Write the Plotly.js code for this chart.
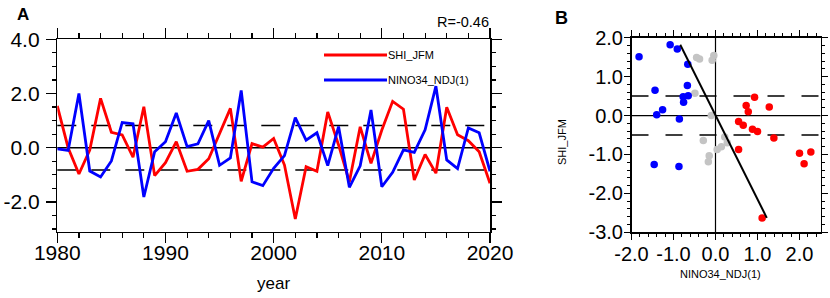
<!DOCTYPE html>
<html>
<head>
<meta charset="utf-8">
<script src="https://cdn.plot.ly/plotly-3.0.1.min.js"></script>
<style>html,body{margin:0;padding:0;background:#fff;}#chart{width:830px;height:298px;}</style>
</head>
<body>
<div id="chart"></div>
<script>
// ---- data ----
var years = [1980,1981,1982,1983,1984,1985,1986,1987,1988,1989,1990,1991,1992,1993,1994,1995,1996,1997,1998,1999,2000,2001,2002,2003,2004,2005,2006,2007,2008,2009,2010,2011,2012,2013,2014,2015,2016,2017,2018,2019,2020];
var shiJFM = [1.54,0.00,-0.97,-0.09,1.82,0.57,0.47,-0.35,1.51,-1.03,-0.55,0.22,-0.87,-0.80,-0.41,0.51,1.45,-1.24,0.15,0.02,0.34,-0.64,-2.63,-0.70,-0.87,1.32,0.10,-1.26,0.77,-0.58,0.65,1.71,1.42,-1.19,-0.25,-0.94,1.49,0.48,0.26,-0.15,-1.31];
var nino34NDJ = [-0.04,-0.10,2.00,-0.86,-1.08,-0.49,0.93,0.88,-1.82,-0.15,0.22,1.28,0.04,0.14,1.00,-0.65,-0.38,2.11,-1.26,-1.40,-0.76,-0.29,1.11,0.28,0.55,-0.66,0.78,-1.46,-0.67,1.39,-1.44,-0.91,-0.08,-0.17,0.66,2.27,-0.45,-0.77,0.73,0.55,-0.87];
var seriesNames = ["SHI_JFM", "NINO34_NDJ(1)"];
var seriesColors = ["#ff0000", "#0000ff"];
var dashLevelsA = [0.82, -0.82];
var dashLevelsB = [0.5, -0.5];
var ensoThresholds = [-0.5, 0.5];
var corrText = "R=-0.46";
var xTickValsA = [1980,1990,2000,2010,2020];
var xTickTextA = ["1980","1990","2000","2010","2020"];
var yTickValsA = [-2,0,2,4];
var yTickTextA = ["-2.0","0.0","2.0","4.0"];
var xTickValsB = [-2,-1,0,1,2];
var xTickTextB = ["-2.0","-1.0","0.0","1.0","2.0"];
var yTickValsB = [-3,-2,-1,0,1,2];
var yTickTextB = ["-3.0","-2.0","-1.0","0.0","1.0","2.0"];

// ---- derived ----
var ptColors = nino34NDJ.map(function(v){
  if (v < ensoThresholds[0]) return "#0000ff";
  if (v > ensoThresholds[1]) return "#ff0000";
  return "#c4c4c4";
});
var n = shiJFM.length, mx = 0, my = 0;
for (var i=0;i<n;i++){ mx += nino34NDJ[i]; my += shiJFM[i]; }
mx/=n; my/=n;
var sxy=0, syy=0;
for (var i=0;i<n;i++){ sxy += (nino34NDJ[i]-mx)*(shiJFM[i]-my); syy += (shiJFM[i]-my)*(shiJFM[i]-my); }
var b = sxy/syy, a = mx - b*my;
var yMin = Math.min.apply(null, shiJFM), yMax = Math.max.apply(null, shiJFM);
var regY = [yMax, yMin];
var regX = regY.map(function(y){ return a + b*y; });

var FONT = "Liberation Sans, Arial, Helvetica, sans-serif";

var traces = [
  {x: years, y: shiJFM, type:"scatter", mode:"lines", line:{color:seriesColors[0], width:2.8}, xaxis:"x", yaxis:"y", showlegend:false},
  {x: years, y: nino34NDJ, type:"scatter", mode:"lines", line:{color:seriesColors[1], width:2.8}, xaxis:"x", yaxis:"y", showlegend:false},
  {x: nino34NDJ, y: shiJFM, type:"scatter", mode:"markers", marker:{color:ptColors, size:7.5, line:{width:0}}, xaxis:"x2", yaxis:"y2", showlegend:false},
  {x: regX, y: regY, type:"scatter", mode:"lines", line:{color:"#000", width:2}, xaxis:"x2", yaxis:"y2", showlegend:false}
];

var shapes = [];
shapes.push({type:"line", xref:"x domain", yref:"y", x0:0, x1:1, y0:0, y1:0, line:{color:"#000", width:1.5}, layer:"below"});
dashLevelsA.forEach(function(v){
  shapes.push({type:"line", xref:"x domain", yref:"y", x0:0, x1:1, y0:v, y1:v, line:{color:"#000", width:1.5, dash:"19px,15px"}, layer:"below"});
});
shapes.push({type:"line", xref:"x2 domain", yref:"y2", x0:0, x1:1, y0:0, y1:0, line:{color:"#000", width:1.2}, layer:"below"});
shapes.push({type:"line", xref:"x2", yref:"y2 domain", x0:0, x1:0, y0:0, y1:1, line:{color:"#000", width:1.2}, layer:"below"});
dashLevelsB.forEach(function(v){
  shapes.push({type:"line", xref:"x2 domain", yref:"y2", x0:0, x1:1, y0:v, y1:v, line:{color:"#000", width:1.5, dash:"17px,17px"}, layer:"below"});
});
var legY = [1-55/298, 1-80/298];
shapes.push({type:"line", xref:"paper", yref:"paper", x0:324/830, x1:387/830, y0:legY[0], y1:legY[0], line:{color:seriesColors[0], width:2.8}});
shapes.push({type:"line", xref:"paper", yref:"paper", x0:324/830, x1:387/830, y0:legY[1], y1:legY[1], line:{color:seriesColors[1], width:2.8}});

var annotations = [
  {text:"<b>A</b>", xref:"paper", yref:"paper", x:15/830, y:1-3/298, xanchor:"left", yanchor:"top", showarrow:false, font:{family:FONT, size:17, color:"#000"}},
  {text:"<b>B</b>", xref:"paper", yref:"paper", x:553/830, y:1-6/298, xanchor:"left", yanchor:"top", showarrow:false, font:{family:FONT, size:18, color:"#000"}},
  {text:corrText, xref:"paper", yref:"paper", x:491/830, y:1-22/298, xanchor:"right", yanchor:"middle", showarrow:false, font:{family:FONT, size:14.5, color:"#000"}},
  {text:seriesNames[0], xref:"paper", yref:"paper", x:386/830, y:legY[0], xanchor:"left", yanchor:"middle", showarrow:false, font:{family:FONT, size:11, color:"#000"}},
  {text:seriesNames[1], xref:"paper", yref:"paper", x:386/830, y:legY[1], xanchor:"left", yanchor:"middle", showarrow:false, font:{family:FONT, size:11, color:"#000"}},
  {text:"year", xref:"paper", yref:"paper", x:273/830, y:1-283/298, xanchor:"center", yanchor:"middle", showarrow:false, font:{family:FONT, size:17, color:"#000"}},
  {text:seriesNames[1], xref:"paper", yref:"paper", x:720/830, y:1-274/298, xanchor:"center", yanchor:"middle", showarrow:false, font:{family:FONT, size:11, color:"#000"}},
  {text:seriesNames[0], xref:"paper", yref:"paper", x:562/830, y:1-142/298, xanchor:"center", yanchor:"middle", textangle:-90, showarrow:false, font:{family:FONT, size:11, color:"#000"}}
];

function axisBase(extra){
  var o = {showgrid:false, zeroline:false, showline:true, mirror:"ticks", linecolor:"#000", linewidth:1.5,
    ticks:"outside", tickcolor:"#000", tickwidth:1.3, tickmode:"array", fixedrange:true,
    tickfont:{family:FONT, color:"#000"}};
  for (var k in extra) o[k] = extra[k];
  return o;
}

var layout = {
  width:830, height:298, margin:{l:0,r:0,t:0,b:0}, paper_bgcolor:"#fff", plot_bgcolor:"#fff",
  font:{family:FONT, color:"#000"},
  showlegend:false,
  xaxis: axisBase({domain:[57.3/830, 490/830], range:[1980,2020], tickvals:xTickValsA, ticktext:xTickTextA, ticklen:10,
    tickfont:{family:FONT, size:21, color:"#000"}, ticklabelstandoff:-8,
    minor:{tickmode:"linear", tick0:1980, dtick:2, ticks:"outside", ticklen:5, tickwidth:1.2, tickcolor:"#000"}, anchor:"y"}),
  yaxis: axisBase({domain:[1-231.7/298, 1-39.3/298], range:[-3.1,4.0], tickvals:yTickValsA, ticktext:yTickTextA, ticklen:10,
    tickfont:{family:FONT, size:21, color:"#000"}, ticklabelstandoff:2,
    minor:{tickmode:"linear", tick0:0, dtick:0.5, ticks:"outside", ticklen:4, tickwidth:1.2, tickcolor:"#000"}, anchor:"x"}),
  xaxis2: axisBase({domain:[631.5/830, 820.5/830], range:[-2,2.5], tickvals:xTickValsB, ticktext:xTickTextB, ticklen:6,
    tickfont:{family:FONT, size:20, color:"#000"}, ticklabelstandoff:-3,
    minor:{tickmode:"linear", tick0:0, dtick:0.2, ticks:"outside", ticklen:3, tickwidth:1, tickcolor:"#000"}, anchor:"y2"}),
  yaxis2: axisBase({domain:[1-232.3/298, 1-37.7/298], range:[-3,2], tickvals:yTickValsB, ticktext:yTickTextB, ticklen:6,
    tickfont:{family:FONT, size:20, color:"#000"}, ticklabelstandoff:-3,
    minor:{tickmode:"linear", tick0:0, dtick:0.2, ticks:"outside", ticklen:3, tickwidth:1, tickcolor:"#000"}, anchor:"x2"}),
  shapes: shapes,
  annotations: annotations
};

Plotly.newPlot("chart", traces, layout, {staticPlot:true, displayModeBar:false});
</script>
</body>
</html>
